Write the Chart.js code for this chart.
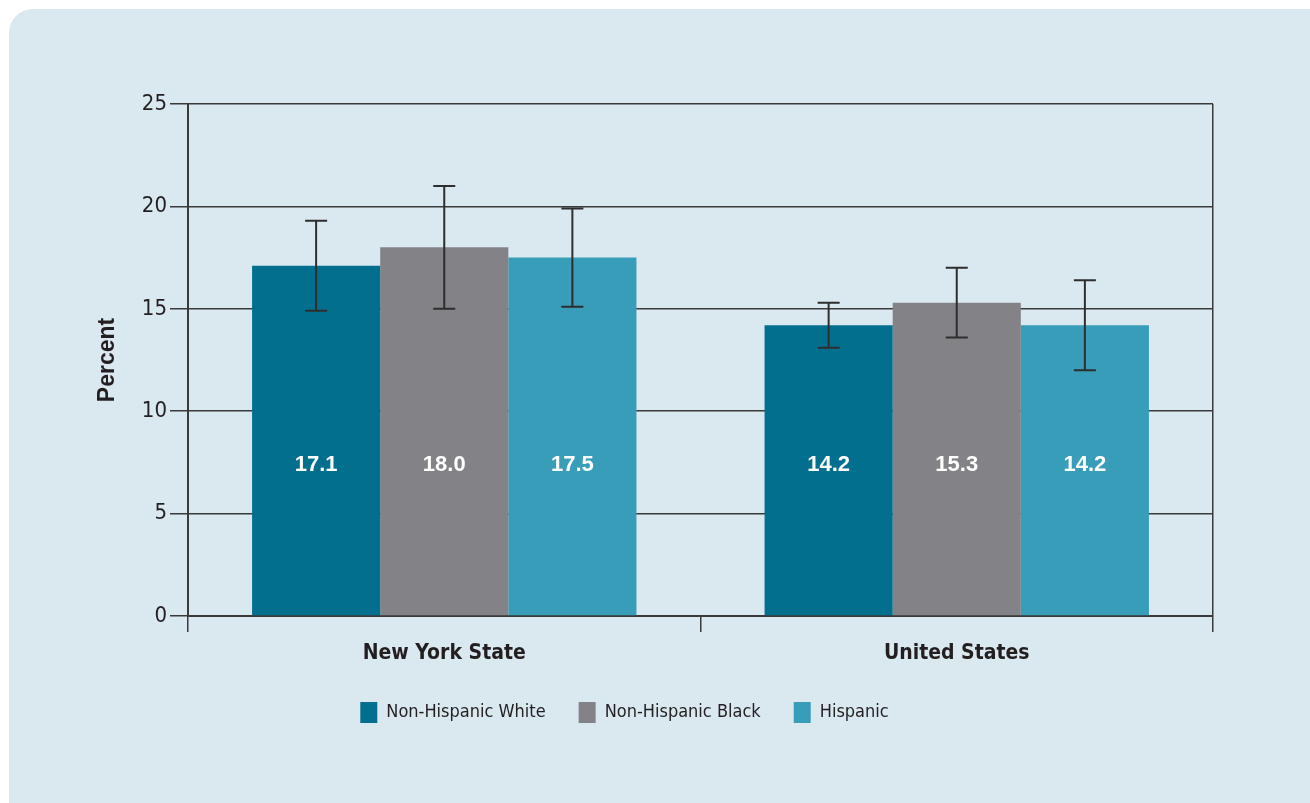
<!DOCTYPE html>
<html>
<head>
<meta charset="utf-8">
<script src="https://cdn.jsdelivr.net/npm/chart.js@4.4.0/dist/chart.umd.min.js"></script>
<style>
  body { margin: 0; background: #ffffff; }
  #panel { position: absolute; left: 9px; top: 9px; width: 1330px; height: 830px; border-radius: 24px; background: #dae8f0; }
  #chart { position: absolute; left: 0; top: 0; }
</style>
</head>
<body>
<div id="panel"></div>
<canvas id="chart" width="1310" height="803"></canvas>
<script>
// chart data
const categories = ['New York State', 'United States'];
const seriesNames = ['Non-Hispanic White', 'Non-Hispanic Black', 'Hispanic'];
const whiteValues = [17.1, 14.2];
const blackValues = [18.0, 15.3];
const hispanicValues = [17.5, 14.2];
// confidence intervals
const whiteLow = [14.9, 13.1];
const whiteHigh = [19.3, 15.3];
const blackLow = [15.0, 13.6];
const blackHigh = [21.0, 17.0];
const hispanicLow = [15.1, 12.0];
const hispanicHigh = [19.9, 16.4];
const yTicks = [0, 5, 10, 15, 20, 25];
const LABEL_AT = 7.4; // value labels sit at this height in every bar

const colors = ['#036f8e', '#838387', '#389db8'];
const ink = '#231f20';
const lineColor = '#3a3a3a';
const narrow = "'Liberation Sans Narrow', 'DejaVu Sans Condensed', sans-serif";
const wide = "'Liberation Sans', Arial, sans-serif";

// draws the CI whiskers
const errorBars = {
    id: 'errorBars',
    afterDatasetsDraw(chart) {
        const { ctx, scales: { y } } = chart;
        ctx.save();
        ctx.strokeStyle = '#2e2e2e';
        ctx.lineWidth = 2;
        chart.data.datasets.forEach((ds, i) => {
            chart.getDatasetMeta(i).data.forEach((bar, j) => {
                const lo = y.getPixelForValue(ds.errLow[j]);
                const hi = y.getPixelForValue(ds.errHigh[j]);
                const half = 11;
                ctx.beginPath();
                ctx.moveTo(bar.x, lo); ctx.lineTo(bar.x, hi);
                ctx.moveTo(bar.x - half, lo); ctx.lineTo(bar.x + half, lo);
                ctx.moveTo(bar.x - half, hi); ctx.lineTo(bar.x + half, hi);
                ctx.stroke();
            });
        });
        ctx.restore();
    }
};

// white value labels inside the bars
const valueLabels = {
    id: 'valueLabels',
    afterDatasetsDraw(chart) {
        const { ctx, scales: { y } } = chart;
        ctx.save();
        ctx.fillStyle = '#ffffff';
        ctx.font = `bold 22px ${wide}`;
        ctx.textAlign = 'center';
        ctx.textBaseline = 'middle';
        chart.data.datasets.forEach((ds, i) => {
            chart.getDatasetMeta(i).data.forEach((bar, j) => {
                ctx.fillText(ds.data[j].toFixed(1), bar.x, y.getPixelForValue(LABEL_AT));
            });
        });
        ctx.restore();
    }
};

const ctx = document.getElementById('chart').getContext('2d');
new Chart(ctx, {
    type: 'bar',
    data: {
        labels: categories,
        datasets: [
            { label: seriesNames[0], data: whiteValues, errLow: whiteLow, errHigh: whiteHigh, backgroundColor: colors[0] },
            { label: seriesNames[1], data: blackValues, errLow: blackLow, errHigh: blackHigh, backgroundColor: colors[1] },
            { label: seriesNames[2], data: hispanicValues, errLow: hispanicLow, errHigh: hispanicHigh, backgroundColor: colors[2] }
        ]
    },
    options: {
        responsive: false,
        animation: false,
        devicePixelRatio: 1,
        datasets: { bar: { categoryPercentage: 0.75, barPercentage: 1.0 } },
        layout: { padding: { top: 104, right: 97, left: 36, bottom: 70 } },
        plugins: {
            legend: {
                position: 'bottom',
                labels: {
                    boxWidth: 17,
                    boxHeight: 21,
                    padding: 33,
                    color: ink,
                    font: { family: narrow, size: 18 }
                }
            },
            tooltip: { enabled: false }
        },
        scales: {
            x: {
                offset: true,
                grid: {
                    offset: true,
                    lineWidth: 1.5,
                    color: c => c.index === 1 ? 'rgba(0,0,0,0)' : lineColor,
                    tickColor: lineColor,
                    tickLength: 16
                },
                border: { display: true, color: lineColor, width: 2 },
                ticks: { color: ink, padding: 9, font: { family: narrow, size: 21, weight: 'bold' } },
                afterFit: s => { s.height = 53; }
            },
            y: {
                min: 0,
                max: 25,
                afterBuildTicks: s => { s.ticks = yTicks.map(v => ({ value: v })); },
                grid: { lineWidth: 1.5, color: lineColor, tickLength: 18 },
                border: { color: lineColor, width: 2 },
                ticks: { color: ink, padding: 3, font: { family: narrow, size: 22 } },
                title: {
                    display: true,
                    text: 'Percent',
                    color: ink,
                    padding: { top: 58, bottom: 0 },
                    font: { family: wide, size: 23, weight: 'bold' }
                },
                afterFit: s => { s.width = 152; }
            }
        }
    },
    plugins: [errorBars, valueLabels]
});
</script>
</body>
</html>
